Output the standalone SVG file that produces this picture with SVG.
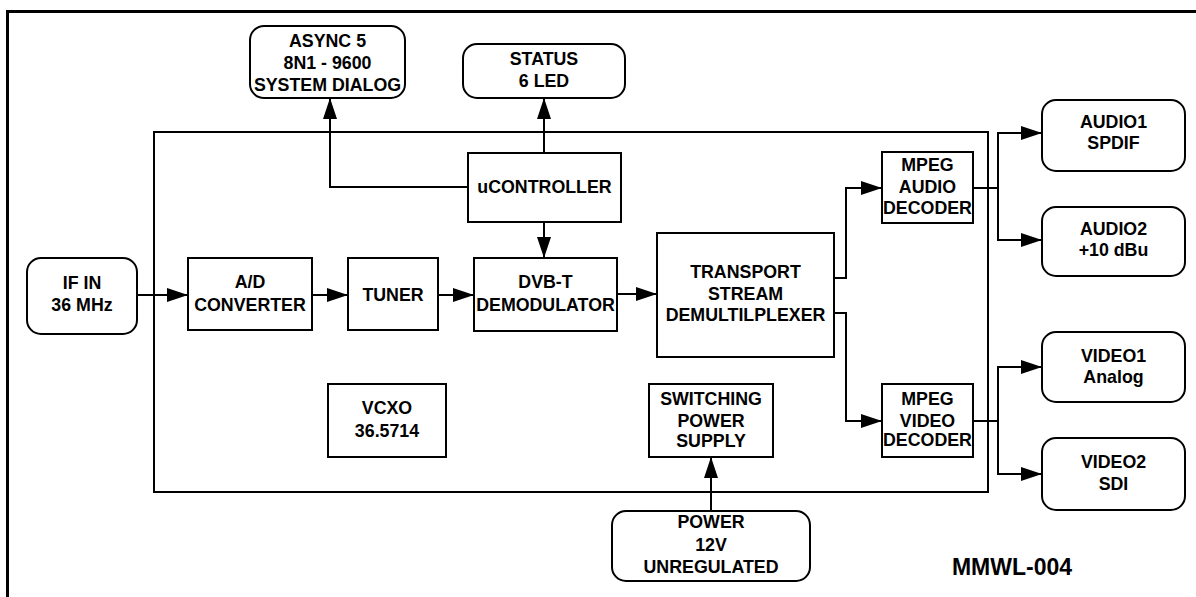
<svg xmlns="http://www.w3.org/2000/svg" width="1196" height="597" viewBox="0 0 1196 597">
<style>
  .box { fill: #fff; stroke: #000; stroke-width: 2; }
  .rbox { fill: #fff; stroke: #000; stroke-width: 2; }
  .t { font-family: "Liberation Sans", Arial, sans-serif; font-weight: bold; font-size: 17.8px; text-anchor: middle; fill: #000; }
  .c { fill: none; stroke: #000; stroke-width: 2; }
</style>
<defs>
  <marker id="arr" markerUnits="userSpaceOnUse" markerWidth="22" markerHeight="14" refX="21" refY="7" orient="auto">
    <path d="M0,0 L21,7 L0,14 z" fill="#000"/>
  </marker>
</defs>
<rect width="1196" height="597" fill="#fff"/>
<path d="M7.5,597 V11.5 H1196" fill="none" stroke="#000" stroke-width="3"/>
<g id="main-board"><rect x="154" y="132" width="834" height="360" fill="none" stroke="#000" stroke-width="2"/></g>

<g id="connectors">
  <path class="c" d="M468,187 H330 V98" marker-end="url(#arr)"/>
  <path class="c" d="M544,153 V98" marker-end="url(#arr)"/>
  <path class="c" d="M544,222 V258" marker-end="url(#arr)"/>
  <path class="c" d="M137,295 H188" marker-end="url(#arr)"/>
  <path class="c" d="M312,295 H348" marker-end="url(#arr)"/>
  <path class="c" d="M438,295 H474" marker-end="url(#arr)"/>
  <path class="c" d="M617,294 H657" marker-end="url(#arr)"/>
  <path class="c" d="M834,278 H846 V188 H882" marker-end="url(#arr)"/>
  <path class="c" d="M834,313 H846 V421 H882" marker-end="url(#arr)"/>
  <path class="c" d="M973,188 H998"/>
  <path class="c" d="M998,188 V133 H1042" marker-end="url(#arr)"/>
  <path class="c" d="M998,188 V240 H1042" marker-end="url(#arr)"/>
  <path class="c" d="M973,421 H998"/>
  <path class="c" d="M998,421 V367 H1042" marker-end="url(#arr)"/>
  <path class="c" d="M998,421 V474 H1042" marker-end="url(#arr)"/>
  <path class="c" d="M711,511 V457" marker-end="url(#arr)"/>
</g>

<g id="async5">
  <rect class="rbox" x="250" y="26" width="155" height="72" rx="14"/>
  <text class="t" x="327.5" y="47">ASYNC 5</text>
  <text class="t" x="327.5" y="68.5">8N1 - 9600</text>
  <text class="t" x="327.5" y="90.5">SYSTEM DIALOG</text>
</g>
<g id="status">
  <rect class="rbox" x="463" y="44" width="162" height="54" rx="14"/>
  <text class="t" x="544" y="65">STATUS</text>
  <text class="t" x="544" y="87">6 LED</text>
</g>
<g id="ucontroller">
  <rect class="box" x="468" y="153" width="153" height="69"/>
  <text class="t" x="544.5" y="193">uCONTROLLER</text>
</g>
<g id="ifin">
  <rect class="rbox" x="27" y="258" width="110" height="76" rx="14"/>
  <text class="t" x="82" y="289">IF IN</text>
  <text class="t" x="82" y="311">36 MHz</text>
</g>
<g id="adc">
  <rect class="box" x="188" y="258" width="124" height="72"/>
  <text class="t" x="250" y="288">A/D</text>
  <text class="t" x="250" y="311">CONVERTER</text>
</g>
<g id="tuner">
  <rect class="box" x="348" y="258" width="90" height="72"/>
  <text class="t" x="393" y="300.5">TUNER</text>
</g>
<g id="dvbt">
  <rect class="box" x="474" y="258" width="143" height="73"/>
  <text class="t" x="545.5" y="288">DVB-T</text>
  <text class="t" x="545.5" y="311">DEMODULATOR</text>
</g>
<g id="transport">
  <rect class="box" x="657" y="233" width="177" height="124"/>
  <text class="t" x="745.5" y="278">TRANSPORT</text>
  <text class="t" x="745.5" y="300">STREAM</text>
  <text class="t" x="745.5" y="321">DEMULTILPLEXER</text>
</g>
<g id="audio-decoder">
  <rect class="box" x="882" y="152" width="91" height="71"/>
  <text class="t" x="927.5" y="171">MPEG</text>
  <text class="t" x="927.5" y="193">AUDIO</text>
  <text class="t" x="927.5" y="214">DECODER</text>
</g>
<g id="video-decoder">
  <rect class="box" x="882" y="384" width="91" height="73"/>
  <text class="t" x="927.5" y="405">MPEG</text>
  <text class="t" x="927.5" y="427">VIDEO</text>
  <text class="t" x="927.5" y="446">DECODER</text>
</g>
<g id="audio1">
  <rect class="rbox" x="1042" y="100" width="143" height="71" rx="14"/>
  <text class="t" x="1113.5" y="128">AUDIO1</text>
  <text class="t" x="1113.5" y="149">SPDIF</text>
</g>
<g id="audio2">
  <rect class="rbox" x="1042" y="207" width="143" height="69" rx="14"/>
  <text class="t" x="1113.5" y="235">AUDIO2</text>
  <text class="t" x="1113.5" y="256">+10 dBu</text>
</g>
<g id="video1">
  <rect class="rbox" x="1042" y="332" width="143" height="70" rx="14"/>
  <text class="t" x="1113.5" y="362">VIDEO1</text>
  <text class="t" x="1113.5" y="383">Analog</text>
</g>
<g id="video2">
  <rect class="rbox" x="1042" y="438" width="143" height="72" rx="14"/>
  <text class="t" x="1113.5" y="468">VIDEO2</text>
  <text class="t" x="1113.5" y="490">SDI</text>
</g>
<g id="vcxo">
  <rect class="box" x="328" y="384" width="118" height="73"/>
  <text class="t" x="387" y="414">VCXO</text>
  <text class="t" x="387" y="437">36.5714</text>
</g>
<g id="smps">
  <rect class="box" x="649" y="384" width="124" height="73"/>
  <text class="t" x="711" y="405">SWITCHING</text>
  <text class="t" x="711" y="427">POWER</text>
  <text class="t" x="711" y="447">SUPPLY</text>
</g>
<g id="power">
  <rect class="rbox" x="612" y="511" width="198" height="70" rx="14"/>
  <text class="t" x="711" y="528">POWER</text>
  <text class="t" x="711" y="551">12V</text>
  <text class="t" x="711" y="573">UNREGULATED</text>
</g>
<g id="label">
  <text class="t" x="1012" y="575" style="font-size:23px">MMWL-004</text>
</g>
</svg>
